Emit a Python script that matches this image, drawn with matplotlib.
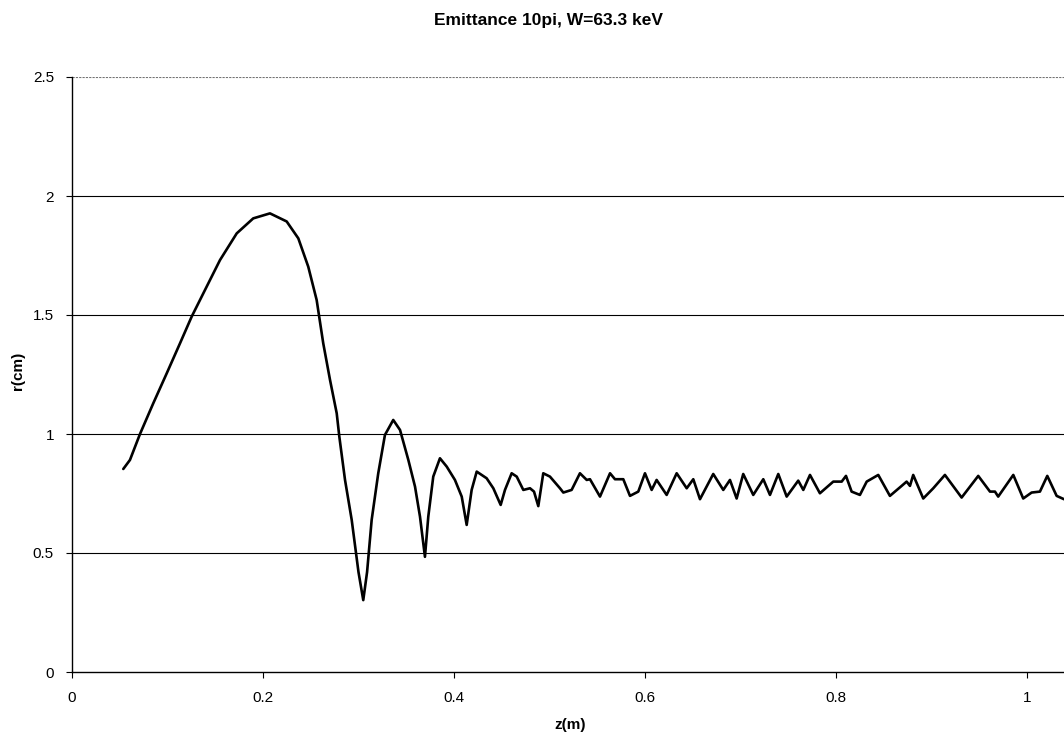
import matplotlib.pyplot as plt
import numpy as np

# beam envelope r(z)
z = [0.0537, 0.0607, 0.0712, 0.0851, 0.0992, 0.1131, 0.1253, 0.1410, 0.1550, 0.1725,
     0.1898, 0.2073, 0.2248, 0.2370, 0.2474, 0.2562, 0.2631, 0.2702, 0.2772, 0.2799,
     0.2859, 0.2929, 0.3000, 0.3050, 0.3090, 0.3138, 0.3207, 0.3277, 0.3364, 0.3435,
     0.3522, 0.3592, 0.3644, 0.3696, 0.3731, 0.3783, 0.3853, 0.3924, 0.4010, 0.4081,
     0.4133, 0.4185, 0.4238, 0.4290, 0.4342, 0.4412, 0.4489, 0.4534, 0.4604, 0.4657,
     0.4726, 0.4796, 0.4838, 0.4883, 0.4935, 0.5005, 0.5110, 0.5145, 0.5232, 0.5319,
     0.5390, 0.5424, 0.5529, 0.5634, 0.5686, 0.5773, 0.5843, 0.5930, 0.6000, 0.6070,
     0.6122, 0.6227, 0.6332, 0.6437, 0.6506, 0.6576, 0.6715, 0.6820, 0.6890, 0.6960,
     0.7029, 0.7134, 0.7239, 0.7309, 0.7396, 0.7484, 0.7605, 0.7658, 0.7728, 0.7832,
     0.7972, 0.8060, 0.8105, 0.8164, 0.8251, 0.8322, 0.8443, 0.8565, 0.8688, 0.8740,
     0.8775, 0.8809, 0.8914, 0.9019, 0.9141, 0.9316, 0.9490, 0.9613, 0.9665, 0.9699,
     0.9857, 0.9961, 1.0049, 1.0136, 1.0213, 1.0311, 1.0388]
r = [0.853, 0.891, 1.000, 1.129, 1.255, 1.381, 1.493, 1.619, 1.731, 1.843,
     1.906, 1.927, 1.893, 1.822, 1.703, 1.563, 1.381, 1.227, 1.087, 0.990,
     0.807, 0.639, 0.420, 0.302, 0.420, 0.639, 0.835, 0.996, 1.059, 1.017,
     0.891, 0.779, 0.653, 0.484, 0.653, 0.821, 0.898, 0.863, 0.807, 0.737,
     0.618, 0.765, 0.842, 0.828, 0.814, 0.772, 0.702, 0.765, 0.835, 0.821,
     0.765, 0.772, 0.758, 0.697, 0.835, 0.821, 0.772, 0.754, 0.765, 0.835,
     0.807, 0.810, 0.737, 0.835, 0.810, 0.810, 0.740, 0.758, 0.835, 0.765,
     0.807, 0.744, 0.835, 0.772, 0.810, 0.726, 0.832, 0.765, 0.807, 0.729,
     0.832, 0.744, 0.810, 0.744, 0.832, 0.737, 0.804, 0.765, 0.828, 0.751,
     0.800, 0.800, 0.824, 0.758, 0.744, 0.800, 0.828, 0.740, 0.782, 0.800,
     0.782, 0.828, 0.729, 0.772, 0.828, 0.733, 0.824, 0.758, 0.758, 0.737,
     0.828, 0.729, 0.754, 0.758, 0.824, 0.740, 0.726]

xticks = [0, 0.2, 0.4, 0.6, 0.8, 1]
xticklabels = ['0', '0.2', '0.4', '0.6', '0.8', '1']
yticks = [0, 0.5, 1, 1.5, 2, 2.5]
yticklabels = ['0', '0.5', '1', '1.5', '2', '2.5']

plt.rcParams['font.family'] = ['Liberation Sans', 'DejaVu Sans']

fig = plt.figure(figsize=(10.64, 7.35), dpi=100)
ax = fig.add_axes([72/1064, 1 - 672/735, 1 - 72/1064, (672 - 77)/735])

# horizontal gridlines like the Excel chart
for y in yticks[1:-1]:
    ax.axhline(y, color='black', linewidth=0.8, zorder=1)
ax.axhline(2.5, color='0.45', linewidth=0.8, linestyle=(0, (2, 1)), zorder=1)

ax.plot(z, r, color='black', linewidth=1.9, solid_joinstyle='round',
        solid_capstyle='round', zorder=3)

ax.set_xlim(0, 1.0388)
ax.set_ylim(0, 2.5)
ax.set_xticks(xticks)
ax.set_xticklabels(xticklabels)
ax.set_yticks(yticks)
ax.set_yticklabels(yticklabels)
ax.tick_params(direction='out', length=4, width=0.8, labelsize=11)
ax.tick_params(axis='x', pad=10)
ax.tick_params(axis='y', pad=9)

for side in ['top', 'right']:
    ax.spines[side].set_visible(False)
for side in ['left', 'bottom']:
    ax.spines[side].set_linewidth(1.0)

fig.text(549/1064, 1 - 20/735, 'Emittance 10pi, W=63.3 keV', ha='center', va='center',
         fontsize=12.5, fontweight='bold')
fig.text(570/1064, 1 - 725/735, 'z(m)', ha='center', va='center', fontsize=11, fontweight='bold')
fig.text(18/1064, 1 - 371/735, 'r(cm)', ha='center', va='center', rotation=90,
         fontsize=11, fontweight='bold')

plt.savefig('out.png', dpi=100)
